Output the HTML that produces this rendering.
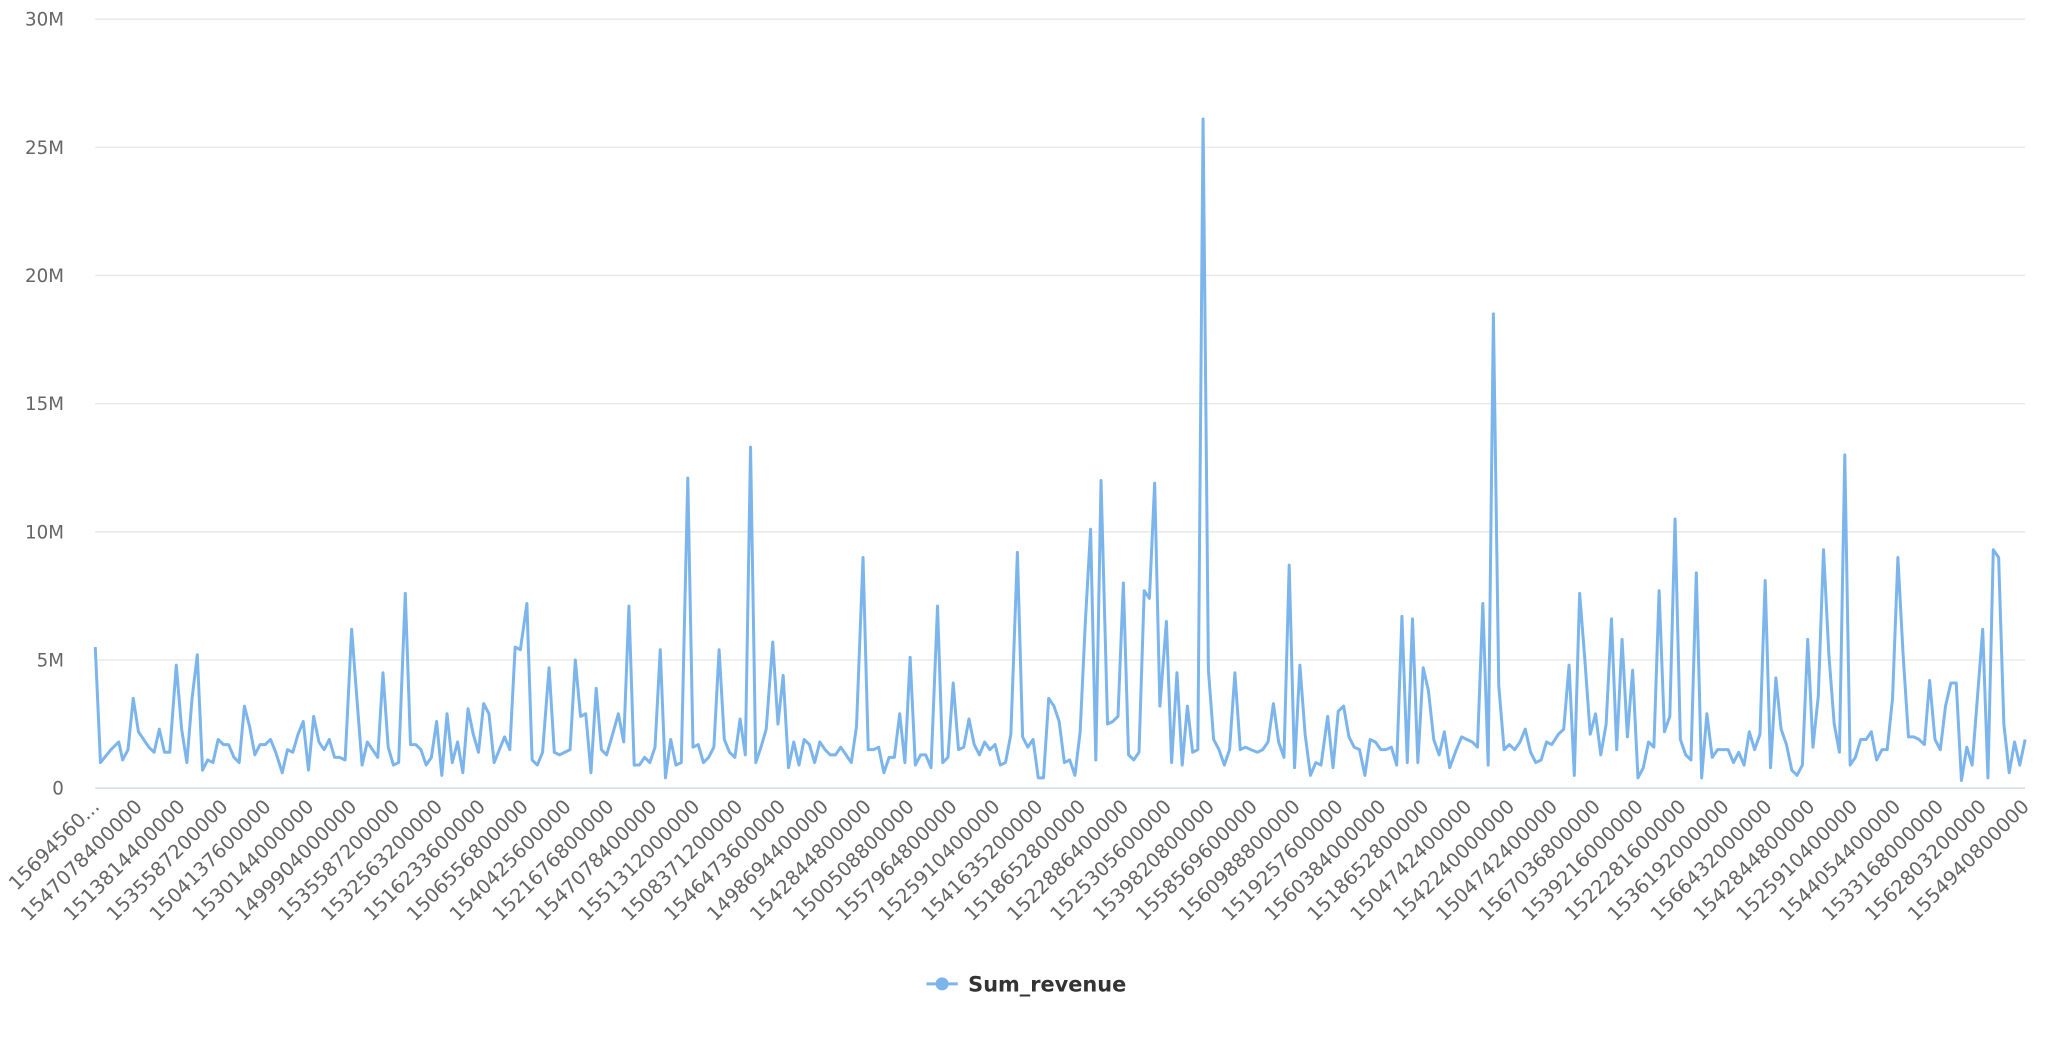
<!DOCTYPE html>
<html><head><meta charset="utf-8"><style>
html,body{margin:0;padding:0;background:#fff;}
svg{display:block;font-family:"DejaVu Sans","Liberation Sans",sans-serif;}
</style></head><body>
<svg id="c" width="2046" height="1040" viewBox="0 0 1568 797" preserveAspectRatio="none" xmlns="http://www.w3.org/2000/svg">
<g id="grid"></g>
<g id="ylab" font-size="14" fill="#666" text-anchor="end"></g>
<polyline id="ln" fill="none" stroke="#7cb5ec" stroke-width="2.3" stroke-linejoin="round"/>
<g id="xlab" font-size="15" fill="#666" text-anchor="end"></g>
<line x1="710" y1="754" x2="734" y2="754" stroke="#7cb5ec" stroke-width="2.3"/>
<circle cx="722" cy="754" r="5" fill="#7cb5ec"/>
<text x="742" y="760" font-size="16" font-weight="bold" fill="#333">Sum_revenue</text>
</svg>
<script>
var NS="http://www.w3.org/2000/svg";
function el(t,a,p,txt){var e=document.createElementNS(NS,t);for(var k in a)e.setAttribute(k,a[k]);if(txt!==undefined)e.textContent=txt;document.getElementById(p).appendChild(e);return e;}
var y0=604,ppm=(604-14.6)/30;
var labs=["0","5M","10M","15M","20M","25M","30M"];
for(var i=0;i<=6;i++){var y=y0-i*5*ppm;
el("line",{x1:73,x2:1552,y1:y,y2:y,stroke:i==0?"#ccd6eb":"#e6e6e6","stroke-width":1},"grid");
el("text",{x:49,y:y+5},"ylab",labs[i]);}
var d=[73,5.5,77,1.0,85,1.5,91,1.8,94,1.1,98,1.5,102,3.5,106,2.2,110,1.9,114,1.6,118,1.4,122,2.3,126,1.4,130,1.4,135,4.8,139,2.3,143,1.0,147,3.5,151,5.2,155,0.7,159,1.1,163,1.0,167,1.9,171,1.7,175,1.7,179,1.2,183,1.0,187,3.2,191,2.4,195,1.3,199,1.7,203,1.7,207,1.9,211,1.4,216,0.6,220,1.5,224,1.4,228,2.1,232,2.6,236,0.7,240,2.8,244,1.8,248,1.5,252,1.9,256,1.2,260,1.2,264,1.1,269,6.2,273,3.5,277,0.9,281,1.8,285,1.5,289,1.2,293,4.5,297,1.6,301,0.9,305,1.0,310,7.6,314,1.7,318,1.7,322,1.5,326,0.9,330,1.2,334,2.6,338,0.5,342,2.9,346,1.0,350,1.8,354,0.6,358,3.1,362,2.1,366,1.4,370,3.3,374,2.9,378,1.0,382,1.5,386,2.0,390,1.5,394,5.5,398,5.4,403,7.2,407,1.1,411,0.9,415,1.4,420,4.7,424,1.4,428,1.3,432,1.4,436,1.5,440,5.0,444,2.8,448,2.9,452,0.6,456,3.9,460,1.5,464,1.3,468,2.0,473,2.9,477,1.8,481,7.1,485,0.9,489,0.9,493,1.2,497,1.0,501,1.6,505,5.4,509,0.4,513,1.9,517,0.9,521,1.0,526,12.1,530,1.6,534,1.7,538,1.0,542,1.2,546,1.6,550,5.4,554,1.9,558,1.4,562,1.2,566,2.7,570,1.3,574,13.3,578,1.0,582,1.6,586,2.3,591,5.7,595,2.5,599,4.4,603,0.8,607,1.8,611,0.9,615,1.9,619,1.7,623,1.0,627,1.8,631,1.5,635,1.3,639,1.3,643,1.6,647,1.3,651,1.0,655,2.4,660,9.0,664,1.5,668,1.5,672,1.6,676,0.6,680,1.2,684,1.2,688,2.9,692,1.0,696,5.1,700,0.9,704,1.3,708,1.3,712,0.8,717,7.1,721,1.0,725,1.2,729,4.1,733,1.5,737,1.6,741,2.7,745,1.7,749,1.3,753,1.8,757,1.5,761,1.7,765,0.9,769,1.0,773,2.1,778,9.2,782,2.0,786,1.6,790,1.9,794,0.4,798,0.4,802,3.5,806,3.2,810,2.6,814,1.0,818,1.1,822,0.5,826,2.2,830,6.5,834,10.1,838,1.1,842,12.0,847,2.5,851,2.6,855,2.8,859,8.0,863,1.3,867,1.1,871,1.4,875,7.7,879,7.4,883,11.9,887,3.2,892,6.5,896,1.0,900,4.5,904,0.9,908,3.2,912,1.4,916,1.5,920,26.1,924,4.6,928,1.9,932,1.5,936,0.9,940,1.5,944,4.5,948,1.5,952,1.6,956,1.5,961,1.4,965,1.5,969,1.8,973,3.3,977,1.8,981,1.2,985,8.7,989,0.8,993,4.8,997,2.1,1001,0.5,1005,1.0,1009,0.9,1014,2.8,1018,0.8,1022,3.0,1026,3.2,1030,2.0,1034,1.6,1038,1.5,1042,0.5,1046,1.9,1050,1.8,1054,1.5,1058,1.5,1062,1.6,1066,0.9,1070,6.7,1074,1.0,1078,6.6,1082,1.0,1086,4.7,1090,3.8,1094,1.9,1098,1.3,1102,2.2,1106,0.8,1111,1.5,1115,2.0,1119,1.9,1123,1.8,1127,1.6,1131,7.2,1135,0.9,1139,18.5,1143,4.0,1147,1.5,1151,1.7,1155,1.5,1159,1.8,1163,2.3,1167,1.4,1171,1.0,1175,1.1,1179,1.8,1183,1.7,1188,2.1,1192,2.3,1196,4.8,1200,0.5,1204,7.6,1208,5.0,1212,2.1,1216,2.9,1220,1.3,1224,2.5,1228,6.6,1232,1.5,1236,5.8,1240,2.0,1244,4.6,1248,0.4,1252,0.8,1256,1.8,1260,1.6,1264,7.7,1268,2.2,1272,2.8,1276,10.5,1280,1.9,1284,1.3,1288,1.1,1292,8.4,1296,0.4,1300,2.9,1304,1.2,1308,1.5,1312,1.5,1316,1.5,1320,1.0,1324,1.4,1328,0.9,1332,2.2,1336,1.5,1340,2.1,1344,8.1,1348,0.8,1352,4.3,1356,2.3,1360,1.7,1364,0.7,1368,0.5,1372,0.9,1376,5.8,1380,1.6,1384,3.6,1388,9.3,1392,5.2,1396,2.5,1400,1.4,1404,13.0,1408,0.9,1412,1.2,1416,1.9,1420,1.9,1424,2.2,1428,1.1,1432,1.5,1436,1.5,1440,3.5,1444,9.0,1448,5.2,1452,2.0,1456,2.0,1460,1.9,1464,1.7,1468,4.2,1472,1.9,1476,1.5,1480,3.2,1484,4.1,1488,4.1,1492,0.3,1496,1.6,1500,0.9,1504,3.5,1508,6.2,1512,0.4,1516,9.3,1520,9.0,1524,2.5,1528,0.6,1532,1.8,1536,0.9,1540,1.9];
var pts=[];for(var i=0;i<d.length;i+=2){var xx=d[i],x=xx<=920?73+(xx-73)*(849/847):922+(xx-920)*(630/620);pts.push(x.toFixed(1)+","+(y0-d[i+1]*ppm).toFixed(1));}
document.getElementById("ln").setAttribute("points",pts.join(" "));
var xl=["15694560...","1547078400000","1513814400000","1535587200000","1504137600000","1530144000000","1499904000000","1535587200000","1532563200000","1516233600000","1506556800000","1540425600000","1521676800000","1547078400000","1551312000000","1508371200000","1546473600000","1498694400000","1542844800000","1500508800000","1557964800000","1525910400000","1541635200000","1518652800000","1522886400000","1525305600000","1539820800000","1558569600000","1560988800000","1519257600000","1560384000000","1518652800000","1504742400000","1542240000000","1504742400000","1567036800000","1539216000000","1522281600000","1536192000000","1566432000000","1542844800000","1525910400000","1544054400000","1533168000000","1562803200000","1554940800000"];
var n=xl.length,sp=1479/(n-1);
for(var i=0;i<n;i++){var x=73+i*sp+4,y=619;
el("text",{x:x,y:y,transform:"rotate(-45 "+x+" "+y+")"},"xlab",xl[i]);}
</script>
</body></html>
